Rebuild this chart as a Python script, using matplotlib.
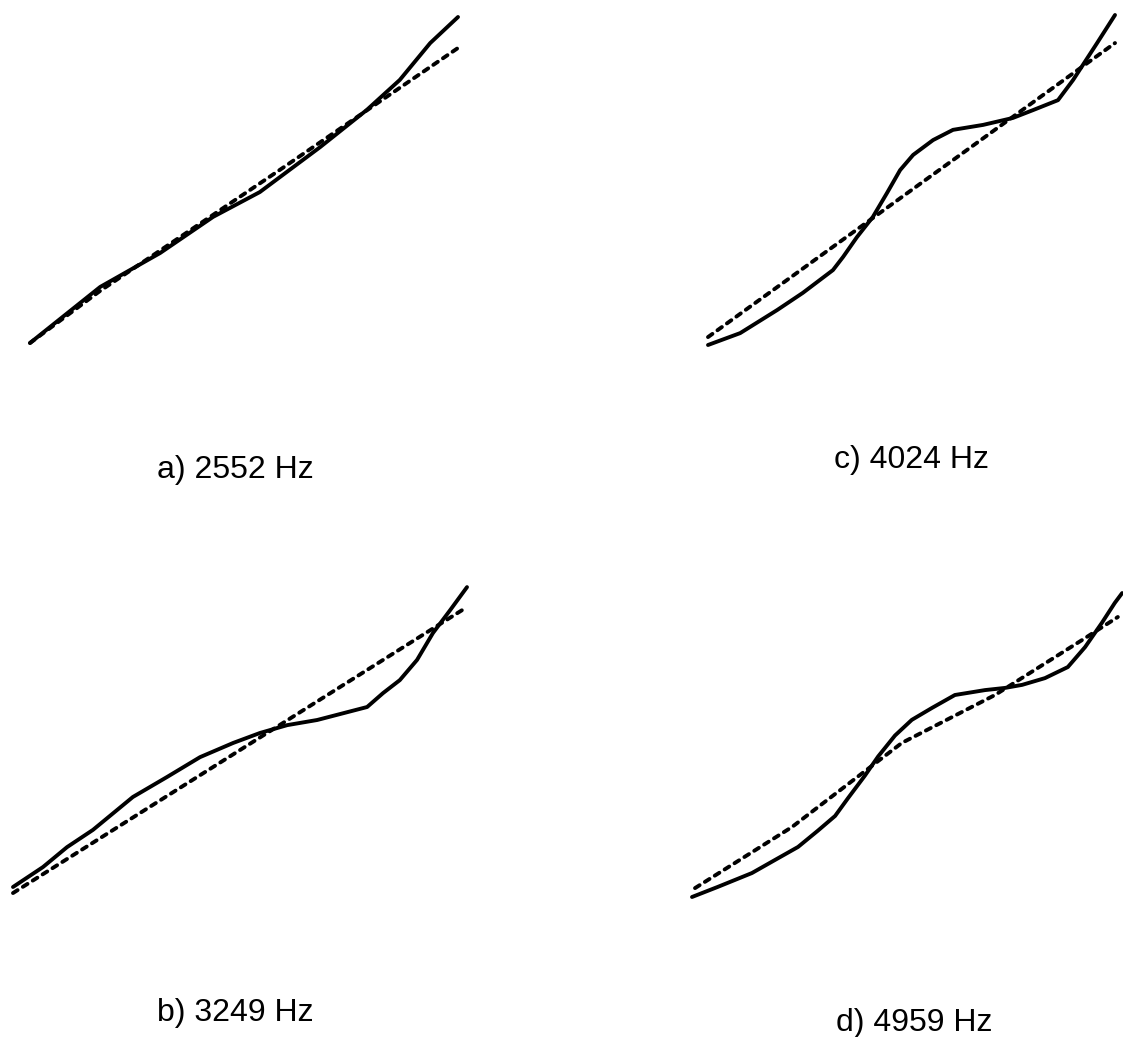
import matplotlib
matplotlib.use("Agg")
import matplotlib.pyplot as plt

W, H = 1123, 1037

# ---- data (normalised units 0..100 within each panel) ----
a_solid_x = [0, 16.4, 30.4, 42.8, 53.7, 67.8, 78.7, 86.4, 93.5, 100]
a_solid_y = [0, 17.2, 27.6, 38.7, 46.3, 60.1, 71.5, 80.7, 92.0, 100]
a_dash_x = [0, 16.4, 57.7, 100]
a_dash_y = [0, 16.0, 52.5, 90.5]

b_solid_x = [0, 6.6, 11.9, 17.6, 26.4, 33.9, 41.2, 48.5, 54.4, 60.4, 67.0,
             78.0, 81.5, 85.2, 89.0, 92.5, 96.3, 100]
b_solid_y = [0, 6.6, 13.2, 18.9, 29.8, 36.4, 43.0, 47.7, 51.0, 53.6, 55.3,
             59.6, 64.2, 68.5, 75.2, 84.1, 91.7, 99.3]
b_dash_x = [0, 100]
b_dash_y = [-2.0, 92.7]

c_solid_x = [0, 7.9, 17.0, 23.3, 30.7, 33.2, 36.6, 40.5, 44.0, 47.2, 50.4,
             55.3, 60.2, 67.6, 74.9, 79.9, 86.0, 89.7, 95.6, 100]
c_solid_y = [0, 3.6, 10.6, 15.8, 22.7, 26.7, 32.7, 38.8, 46.1, 53.0, 57.6,
             62.1, 65.2, 66.7, 68.8, 71.2, 74.2, 80.3, 91.5, 100]
c_dash_x = [0, 100]
c_dash_y = [2.4, 91.5]

d_solid_x = [0, 6.0, 13.9, 19.3, 24.6, 29.2, 33.2, 36.2, 40.1, 43.2, 47.1,
             51.0, 55.7, 61.0, 68.0, 72.6, 76.6, 81.9, 87.2, 91.2, 95.1, 98.1, 99.8]
d_solid_y = [0, 3.3, 7.8, 12.1, 16.3, 21.6, 26.4, 32.2, 39.5, 45.8, 52.6,
             57.7, 61.6, 65.8, 67.4, 68.1, 69.1, 71.3, 74.9, 81.4, 89.3, 95.8, 99.0]
d_dash_x = [0.7, 23.2, 48.7, 70.3, 90.5, 98.8]
d_dash_y = [2.9, 22.8, 50.2, 65.8, 83.7, 91.2]

labels = ["a) 2552 Hz", "b) 3249 Hz", "c) 4024 Hz", "d) 4959 Hz"]

panels = [
    # (pixel box left, right, bottom, top), data, label center x, label baseline y
    ((30, 458, 343, 17), a_solid_x, a_solid_y, a_dash_x, a_dash_y, labels[0], 235, 478),
    ((13, 467, 887, 585), b_solid_x, b_solid_y, b_dash_x, b_dash_y, labels[1], 235, 1021),
    ((708, 1115, 345, 15), c_solid_x, c_solid_y, c_dash_x, c_dash_y, labels[2], 911, 468),
    ((692, 1123, 897, 590), d_solid_x, d_solid_y, d_dash_x, d_dash_y, labels[3], 914, 1031),
]

fig = plt.figure(figsize=(W / 100, H / 100), dpi=100)
fig.patch.set_facecolor("white")

for (l, r, b, t), sx, sy, dx, dy, lab, lx, ly in panels:
    ax = fig.add_axes([l / W, 1 - b / H, (r - l) / W, (b - t) / H])
    ax.set_xlim(0, 100)
    ax.set_ylim(0, 100)
    ax.axis("off")
    ax.plot(sx, sy, color="black", lw=2.8, solid_capstyle="round",
            solid_joinstyle="round", clip_on=False)
    ln, = ax.plot(dx, dy, color="black", lw=2.8, clip_on=False,
                  dash_capstyle="round")
    ln.set_dashes((1.4, 1.6))
    fig.text(lx / W, 1 - ly / H, lab, ha="center", va="baseline",
             fontsize=23, family="Liberation Sans", color="black")

fig.savefig("out.png", dpi=100, facecolor="white")
